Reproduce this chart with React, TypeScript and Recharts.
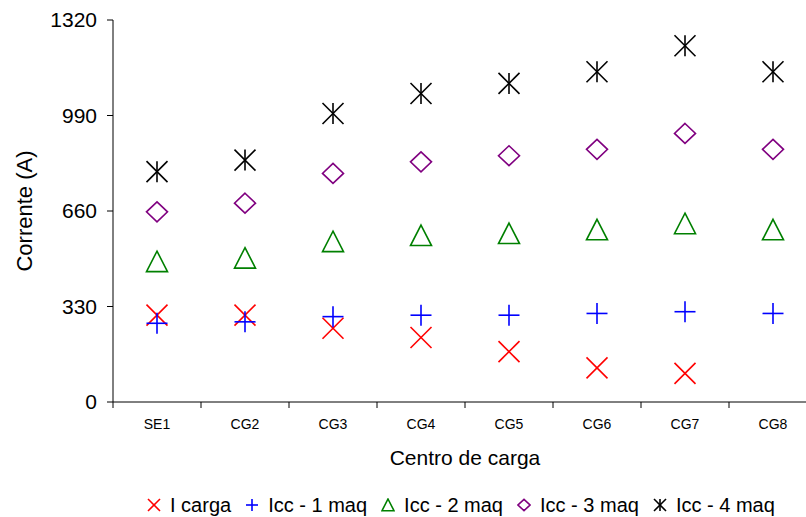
import { ScatterChart, Scatter, XAxis, YAxis, Legend, Label } from 'recharts'

const categories = ['SE1', 'CG2', 'CG3', 'CG4', 'CG5', 'CG6', 'CG7', 'CG8']
const iCarga = [300, 300, 255, 223, 174, 118, 99, null]
const icc1 = [272, 277, 295, 300, 300, 306, 312, 306]
const icc2 = [485, 497, 554, 575, 582, 595, 616, 595]
const icc3 = [657, 687, 790, 830, 851, 873, 928, 873]
const icc4 = [796, 836, 997, 1066, 1101, 1141, 1231, 1141]
const yTicks = [0, 330, 660, 990, 1320]

const FONT = '"Liberation Sans", Arial, sans-serif'
const R = 10.5

type Mark = 'x' | 'plus' | 'triangle' | 'diamond' | 'star'

function drawMark(kind: Mark, cx: number, cy: number, r: number, color: string, sw: number) {
  const common = { stroke: color, strokeWidth: sw, fill: 'none' }
  switch (kind) {
    case 'x':
      return (
        <g {...common}>
          <line x1={cx - r} y1={cy - r} x2={cx + r} y2={cy + r} />
          <line x1={cx - r} y1={cy + r} x2={cx + r} y2={cy - r} />
        </g>
      )
    case 'plus':
      return (
        <g {...common}>
          <line x1={cx - r} y1={cy} x2={cx + r} y2={cy} />
          <line x1={cx} y1={cy - r} x2={cx} y2={cy + r} />
        </g>
      )
    case 'triangle':
      return <polygon {...common} points={`${cx},${cy - r} ${cx + r},${cy + r * 0.95} ${cx - r},${cy + r * 0.95}`} />
    case 'diamond':
      return <polygon {...common} points={`${cx},${cy - r * 0.95} ${cx + r},${cy} ${cx},${cy + r * 0.95} ${cx - r},${cy}`} />
    default:
      return (
        <g {...common}>
          <line x1={cx - r} y1={cy - r} x2={cx + r} y2={cy + r} />
          <line x1={cx - r} y1={cy + r} x2={cx + r} y2={cy - r} />
          <line x1={cx} y1={cy - r} x2={cx} y2={cy + r} />
        </g>
      )
  }
}

const series: { name: string; values: (number | null)[]; color: string; mark: Mark }[] = [
  { name: 'I carga', values: iCarga, color: '#ff0000', mark: 'x' },
  { name: 'Icc - 1 maq', values: icc1, color: '#0000ff', mark: 'plus' },
  { name: 'Icc - 2 maq', values: icc2, color: '#008000', mark: 'triangle' },
  { name: 'Icc - 3 maq', values: icc3, color: '#800080', mark: 'diamond' },
  { name: 'Icc - 4 maq', values: icc4, color: '#000000', mark: 'star' },
]

const toPoints = (values: (number | null)[]) =>
  values
    .map((v, i) => ({ x: i, y: v }))
    .filter((p) => p.y !== null)

function LegendRow() {
  return (
    <div
      style={{
        display: 'flex',
        alignItems: 'center',
        height: 30,
        paddingLeft: 147,
        position: 'relative',
        top: 3,
        fontFamily: FONT,
        fontSize: 20,
        color: '#000',
        whiteSpace: 'nowrap',
      }}
    >
      {series.map((s) => (
        <span key={s.name} style={{ display: 'inline-flex', alignItems: 'center', marginRight: 14 }}>
          <svg width={14} height={14} style={{ marginRight: 9 }}>
            {drawMark(s.mark, 7, 7, 6, s.color, 1.6)}
          </svg>
          {s.name}
        </span>
      ))}
    </div>
  )
}

export default function App() {
  const half = categories.map((_, i) => i - 0.5)
  const domain = [-0.5, categories.length - 0.5]
  return (
    <div style={{ position: 'absolute', left: 0, top: 0, width: 806, height: 517, overflow: 'hidden', background: '#fff' }}>
      <ScatterChart width={830} height={517} margin={{ top: 20, right: 13, left: 0, bottom: 0 }}>
        <XAxis
          xAxisId="bounds"
          type="number"
          dataKey="x"
          domain={domain}
          ticks={half}
          allowDataOverflow
          tickFormatter={() => ''}
          height={1}
          tickSize={6}
          axisLine={{ stroke: '#000' }}
          tickLine={{ stroke: '#000' }}
        />
        <XAxis
          xAxisId="labels"
          type="number"
          dataKey="x"
          domain={domain}
          ticks={categories.map((_, i) => i)}
          interval={0}
          allowDataOverflow
          tickFormatter={(i: number) => categories[i] ?? ''}
          height={84}
          tickSize={6}
          tickMargin={10}
          axisLine={false}
          tickLine={false}
          tick={{ fill: '#000', fontSize: 14, fontFamily: FONT }}
        >
          <Label
            value="Centro de carga"
            position="insideBottom"
            offset={22}
            style={{ fill: '#000', fontSize: 21, fontFamily: FONT }}
          />
        </XAxis>
        <YAxis
          type="number"
          dataKey="y"
          domain={[0, 1320]}
          ticks={yTicks}
          width={113}
          tickSize={6}
          tickMargin={10}
          axisLine={{ stroke: '#000' }}
          tickLine={{ stroke: '#000' }}
          tick={{ fill: '#000', fontSize: 21, fontFamily: FONT }}
        >
          <Label
            value="Corrente (A)"
            angle={-90}
            position="insideLeft"
            offset={24}
            style={{ fill: '#000', fontSize: 22, fontFamily: FONT, textAnchor: 'middle' }}
          />
        </YAxis>
        <Legend verticalAlign="bottom" align="left" content={() => <LegendRow />} />
        {series.map((s) => (
          <Scatter
            key={s.name}
            name={s.name}
            xAxisId="labels"
            data={toPoints(s.values)}
            isAnimationActive={false}
            shape={(p: any) => drawMark(s.mark, p.cx, p.cy, R, s.color, 1.6)}
          />
        ))}
      </ScatterChart>
    </div>
  )
}
